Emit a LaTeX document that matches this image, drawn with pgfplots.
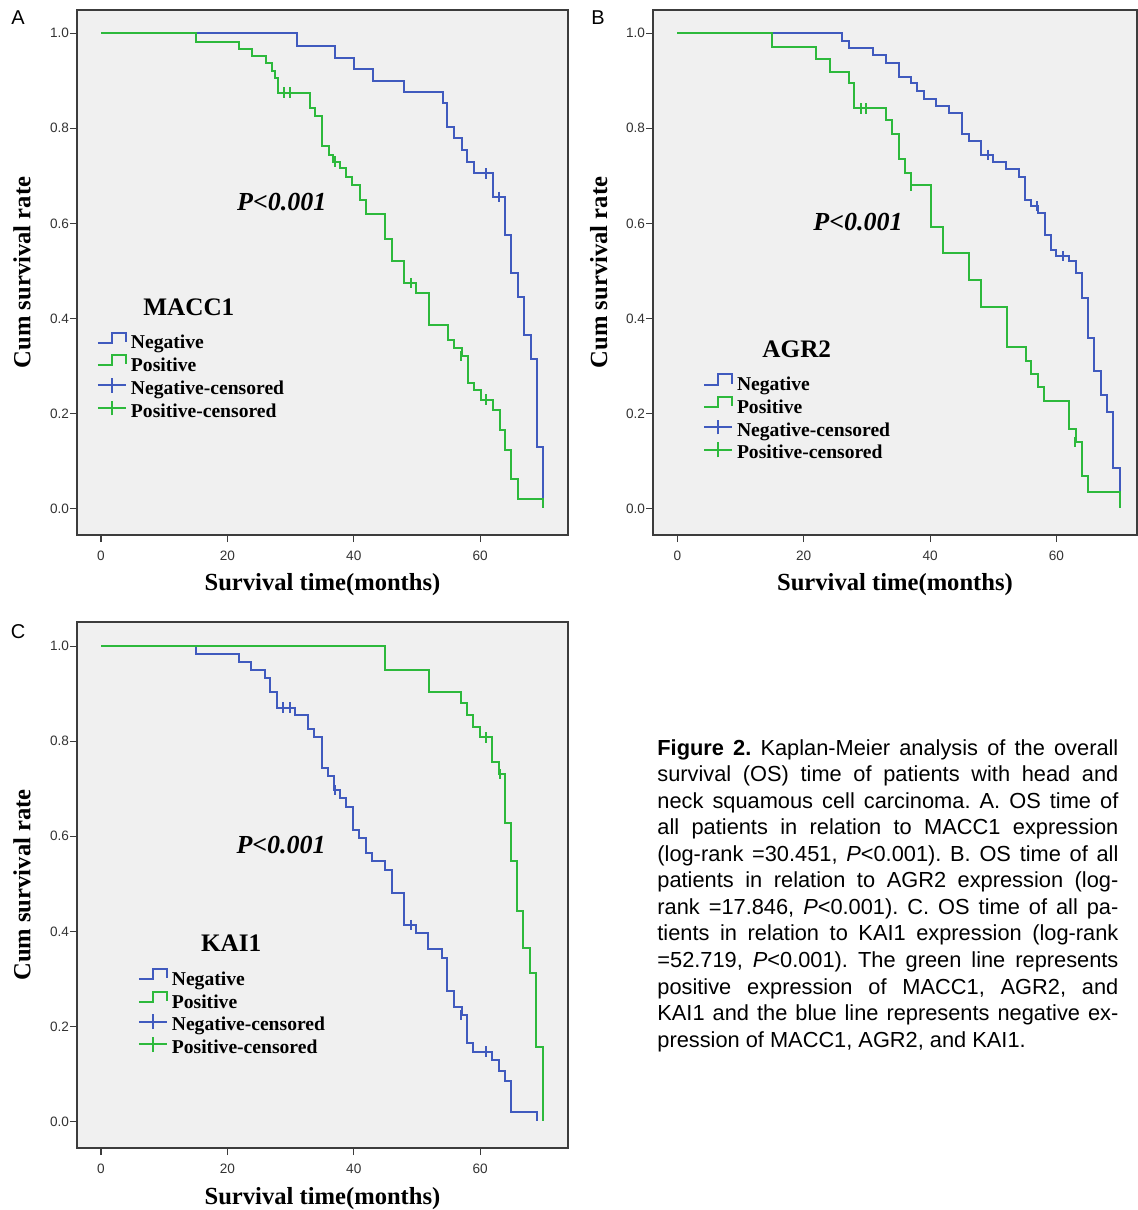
\documentclass[border=0pt]{standalone}
\usepackage{fontspec}
\setmainfont{Liberation Serif}
\newfontfamily\arial{Liberation Sans}
\usepackage{pgfplots}
\pgfplotsset{compat=1.18}
\definecolor{kmblue}{RGB}{64,90,190}
\definecolor{kmgreen}{RGB}{45,185,60}
\definecolor{bgc}{RGB}{240,240,240}
\definecolor{framec}{RGB}{60,60,60}
\pgfplotsset{
  km/.style={
    scale only axis,
    axis background/.style={fill=bgc},
    axis line style={framec, line width=0.7pt},
    xmin=-3.8, xmax=73.9, ymin=-0.056, ymax=1.049,
    xtick={0,20,40,60}, xticklabels={0,20,40,60},
    ytick={0,0.2,0.4,0.6,0.8,1.0},
    yticklabels={0.0,0.2,0.4,0.6,0.8,1.0},
    tick align=outside, tick pos=left,
    major tick length=3.5pt,
    tick style={framec, line width=0.6pt},
    /pgf/number format/assume math mode=true,
    ticklabel style={font=\arial\fontsize{6.8}{8}\selectfont, text=black!80},
    yticklabel style={inner sep=0.3pt},
    xticklabel style={yshift=-1pt},
    xlabel={Survival time(months)}, ylabel={Cum survival rate},
    label style={font=\bfseries\fontsize{12.3}{14}\selectfont},
    xlabel style={at={(axis description cs:0.5,-0.0952)}, anchor=center},
    ylabel style={at={(axis description cs:-0.112,0.5)}, anchor=center},
    legend cell align=left,
    legend style={draw=none, fill=none, inner sep=0pt, outer sep=0pt,
      row sep=-1.15pt, column sep=2pt, anchor=north west,
      font=\bfseries\fontsize{9.8}{11}\selectfont,
      nodes={inner sep=0pt, text height=7.5pt, text depth=3.85pt}},
  },
  kmline/.style={const plot, line width=1pt, mark=none},
  kmcens/.style={only marks, mark=|, mark size=2.6pt, mark options={line width=1pt}},
  stepimgB/.style={legend image code/.code={\draw[kmblue, line width=1pt] (0pt,1.2pt) -- (7pt,1.2pt) -- (7pt,6.3pt) -- (14pt,6.3pt) -- (14pt,1.7pt);}},
  stepimgG/.style={legend image code/.code={\draw[kmgreen, line width=1pt] (0pt,1.2pt) -- (7pt,1.2pt) -- (7pt,6.3pt) -- (14pt,6.3pt) -- (14pt,1.7pt);}},
  censimgB/.style={legend image code/.code={\draw[kmblue, line width=1pt] (0pt,2.8pt) -- (14pt,2.8pt); \draw[kmblue, line width=1pt] (7pt,-1pt) -- (7pt,6.4pt);}},
  censimgG/.style={legend image code/.code={\draw[kmgreen, line width=1pt] (0pt,2.8pt) -- (14pt,2.8pt); \draw[kmgreen, line width=1pt] (7pt,-1pt) -- (7pt,6.4pt);}},
}
\begin{document}
\begin{tikzpicture}
\useasboundingbox (0pt,0pt) rectangle (569pt,-605pt);
% panel letters
\node[font=\arial\fontsize{10}{12}\selectfont] at (9pt,-9pt) {A};
\node[font=\arial\fontsize{10}{12}\selectfont] at (299pt,-9pt) {B};
\node[font=\arial\fontsize{10}{12}\selectfont] at (9pt,-316pt) {C};

% ---------------- Panel A ----------------
\begin{axis}[km, at={(38.5pt,-267.5pt)}, anchor=south west, width=245.5pt, height=262.5pt,
  legend style={at={(axis description cs:0.0407,0.3876)}}]
\addplot[kmline, kmblue, stepimgB] coordinates {
(0,1) (31,0.974) (37,0.949) (40,0.924) (43,0.899) (48,0.876) (54.1,0.853) (54.8,0.803)
(55.9,0.779) (57.1,0.754) (57.9,0.730) (59.0,0.705) (62.1,0.656) (64.0,0.575) (64.9,0.496)
(66.0,0.445) (66.9,0.365) (68.0,0.314) (69.0,0.130) (70.0,0)};
\addlegendentry{Negative}
\addplot[kmline, kmgreen, stepimgG] coordinates {
(0,1) (15,0.982) (21.8,0.966) (23.9,0.952) (26.1,0.937) (27.0,0.921) (27.6,0.905) (28.0,0.875)
(33.0,0.842) (33.8,0.826) (35.0,0.763) (36.0,0.744) (36.7,0.730) (37.8,0.716) (38.7,0.698)
(39.7,0.681) (41.0,0.649) (42.0,0.620) (45.0,0.568) (46.0,0.521) (48.0,0.474) (49.8,0.454)
(51.9,0.386) (54.9,0.354) (55.9,0.337) (57.1,0.321) (58.0,0.264) (59.1,0.249) (60.1,0.229)
(62.1,0.208) (63.1,0.165) (64.0,0.123) (64.9,0.061) (66.0,0.019) (70.0,0)};
\addlegendentry{Positive}
\addplot[kmcens, kmblue, censimgB] coordinates {(61.0,0.705) (63.0,0.656)};
\addlegendentry{Negative-censored}
\addplot[kmcens, kmgreen, censimgG] coordinates {(29.0,0.875) (29.9,0.875) (37.0,0.730) (49.0,0.474) (57.0,0.321) (61.0,0.229)};
\addlegendentry{Positive-censored}
\node[font=\bfseries\itshape\fontsize{13}{15}\selectfont] at (axis cs:28.6,0.645) {P<0.001};
\node[font=\bfseries\fontsize{12.6}{14}\selectfont] at (axis cs:13.9,0.424) {MACC1};
\end{axis}

% ---------------- Panel B ----------------
\begin{axis}[km, at={(326.5pt,-267.5pt)}, anchor=south west, width=242pt, height=262.5pt,
  xmin=-3.85, xmax=72.74,
  legend style={at={(axis description cs:0.1033,0.308)}}]
\addplot[kmline, kmblue, stepimgB] coordinates {
(0,1) (26.1,0.984) (27.1,0.968) (31.0,0.954) (33.0,0.938) (35.0,0.909) (36.9,0.895) (37.9,0.879)
(39.0,0.862) (41.0,0.847) (43.0,0.833) (45.1,0.788) (46.1,0.774) (48.0,0.744) (50.0,0.730)
(52.0,0.714) (54.0,0.698) (55.0,0.650) (55.9,0.636) (57.1,0.622) (58.2,0.575) (59.1,0.544)
(60.0,0.531) (62.0,0.520) (63.1,0.495) (64.1,0.442) (65.0,0.358) (66.0,0.290) (67.0,0.238)
(68.0,0.203) (69.0,0.084) (70.0,0)};
\addlegendentry{Negative}
\addplot[kmline, kmgreen, stepimgG] coordinates {
(0,1) (15,0.972) (21.9,0.945) (24.1,0.919) (27.2,0.895) (27.9,0.842) (33.0,0.817) (33.9,0.788)
(35.0,0.735) (36.0,0.705) (37.0,0.680) (40.1,0.593) (42.1,0.538) (46.2,0.481) (48.0,0.424)
(52.1,0.339) (55.1,0.310) (56.0,0.283) (57.0,0.255) (58.1,0.225) (62.0,0.168) (63.1,0.140)
(64.0,0.068) (65.0,0.035) (70.1,0)};
\addlegendentry{Positive}
\addplot[kmcens, kmblue, censimgB] coordinates {(49.1,0.744) (56.9,0.636) (61.1,0.531)};
\addlegendentry{Negative-censored}
\addplot[kmcens, kmgreen, censimgG] coordinates {(29.0,0.842) (29.9,0.842) (37.0,0.680) (62.9,0.140)};
\addlegendentry{Positive-censored}
\node[font=\bfseries\itshape\fontsize{13}{15}\selectfont] at (axis cs:28.6,0.603) {P<0.001};
\node[font=\bfseries\fontsize{12.6}{14}\selectfont] at (axis cs:18.9,0.335) {AGR2};
\end{axis}

% ---------------- Panel C ----------------
\begin{axis}[km, at={(38.5pt,-574pt)}, anchor=south west, width=245.5pt, height=263pt,
  ymin=-0.056, ymax=1.051,
  legend style={at={(axis description cs:0.124,0.342)}}]
\addplot[kmline, kmblue, stepimgB] coordinates {
(0,1) (15,0.983) (21.8,0.966) (23.8,0.950) (25.9,0.934) (26.7,0.904) (27.8,0.871) (30.7,0.855)
(32.7,0.826) (33.7,0.810) (34.9,0.743) (35.9,0.727) (36.8,0.697) (37.8,0.681) (38.8,0.662)
(39.8,0.613) (40.9,0.596) (41.9,0.564) (42.9,0.547) (45.0,0.529) (46.0,0.480) (48.0,0.413)
(49.8,0.396) (51.8,0.362) (53.9,0.343) (54.8,0.275) (55.9,0.240) (57.1,0.224) (57.9,0.166)
(58.9,0.147) (61.9,0.129) (63.0,0.107) (64.0,0.086) (64.9,0.020) (69.0,0)};
\addlegendentry{Negative}
\addplot[kmline, kmgreen, stepimgG] coordinates {
(0,1) (45,0.950) (51.9,0.903) (56.9,0.881) (57.9,0.855) (58.9,0.831) (59.9,0.808) (61.9,0.757)
(63.0,0.731) (63.9,0.627) (64.9,0.549) (65.9,0.443) (66.8,0.364) (67.9,0.313) (68.9,0.156) (70.0,0)};
\addlegendentry{Positive}
\addplot[kmcens, kmblue, censimgB] coordinates {(28.8,0.871) (29.9,0.871) (37.0,0.697) (49.0,0.413) (57.0,0.224) (61.0,0.147)};
\addlegendentry{Negative-censored}
\addplot[kmcens, kmgreen, censimgG] coordinates {(60.9,0.808) (63.2,0.731)};
\addlegendentry{Positive-censored}
\node[font=\bfseries\itshape\fontsize{13}{15}\selectfont] at (axis cs:28.5,0.582) {P<0.001};
\node[font=\bfseries\fontsize{12.6}{14}\selectfont] at (axis cs:20.6,0.375) {KAI1};
\end{axis}

% ---------------- Caption ----------------
\node[anchor=north west, inner sep=0pt, text width=230.5pt, align=justify,
      font=\arial\fontsize{10.9}{13.27}\selectfont] at (328.5pt,-369.5pt)
{\frenchspacing\hyphenpenalty=10000\exhyphenpenalty=10000
\textbf{Figure 2.} Kaplan-Meier analysis of the overall\linebreak
survival (OS) time of patients with head and\linebreak
neck squamous cell carcinoma. A. OS time of\linebreak
all patients in relation to MACC1 expression\linebreak
(log-rank =30.451, \textit{P}<0.001). B. OS time of all\linebreak
patients in relation to AGR2 expression (log-\linebreak
rank =17.846, \textit{P}<0.001). C. OS time of all pa-\linebreak
tients in relation to KAI1 expression (log-rank\linebreak
=52.719, \textit{P}<0.001). The green line represents\linebreak
positive expression of MACC1, AGR2, and\linebreak
KAI1 and the blue line represents negative ex-\linebreak
pression of MACC1, AGR2, and KAI1.};
\end{tikzpicture}
\end{document}
